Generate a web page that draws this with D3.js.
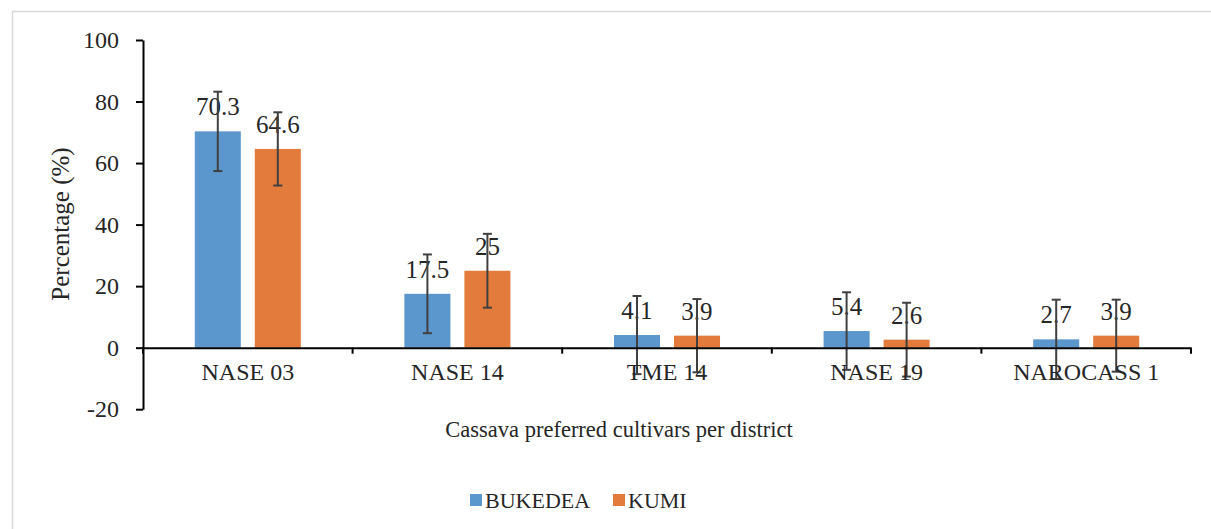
<!DOCTYPE html>
<html>
<head>
<meta charset="utf-8">
<script src="https://cdn.jsdelivr.net/npm/d3@7"></script>
<style>
  body { margin: 0; background: #fff; }
  svg text { font-family: "Liberation Serif", "Times New Roman", Times, "DejaVu Serif", serif; }
</style>
</head>
<body>
<svg width="1211" height="529"></svg>
<script>
// data
const cultivars = ["NASE 03", "NASE 14", "TME 14", "NASE 19", "NAROCASS 1"];
const districts = ["BUKEDEA", "KUMI"];
const bukedea = [70.3, 17.5, 4.1, 5.4, 2.7];
const kumi = [64.6, 25, 3.9, 2.6, 3.9];
const bukedeaErr = [12.9, 12.8, 12.7, 12.6, 12.9];
const kumiErr = [11.9, 12.0, 11.9, 12.0, 11.7];
const yTicks = [-20, 0, 20, 40, 60, 80, 100];

const colors = { BUKEDEA: "#5b96cc", KUMI: "#e37b3c" };

const rows = cultivars.map((c, i) => ({
    cultivar: c,
    values: [
        { key: "BUKEDEA", value: bukedea[i], err: bukedeaErr[i] },
        { key: "KUMI", value: kumi[i], err: kumiErr[i] }
    ]
}));

const svg = d3.select("svg");

// chart area border (Excel style)
svg.append("rect")
    .attr("x", 12.5).attr("y", 11.5)
    .attr("width", 1240).attr("height", 560)
    .attr("fill", "none")
    .attr("stroke", "#d9d9d9")
    .attr("stroke-width", 1.5);

const left = 143, right = 1191;
const x0 = d3.scaleBand().domain(cultivars).range([left, right]).padding(0);
const x1 = d3.scaleBand().domain(districts).range([0, x0.bandwidth()])
    .paddingInner(0.233).paddingOuter(0.863);
const y = d3.scaleLinear().domain([-20, 100]).range([409.2, 40]);

// bars
const groups = svg.append("g")
    .selectAll("g")
    .data(rows)
    .enter()
    .append("g")
    .attr("transform", d => `translate(${x0(d.cultivar)},0)`);

groups.selectAll("rect")
    .data(d => d.values)
    .enter()
    .append("rect")
    .attr("x", d => x1(d.key))
    .attr("width", x1.bandwidth())
    .attr("y", d => y(Math.max(0, d.value)))
    .attr("height", d => Math.abs(y(d.value) - y(0)))
    .attr("fill", d => colors[d.key]);

// y axis
const yAxis = svg.append("g")
    .attr("transform", `translate(${left},0)`)
    .call(d3.axisLeft(y).tickValues(yTicks).tickFormat(d => String(d))
        .tickSize(7).tickPadding(17).tickSizeOuter(0));
yAxis.attr("font-family", null);
yAxis.select(".domain").attr("stroke", "#000").attr("stroke-width", 2);
yAxis.selectAll(".tick line").attr("stroke", "#000").attr("stroke-width", 2);
yAxis.selectAll(".tick text")
    .attr("font-size", 24)
    .attr("fill", "#262626");

// x axis at zero
const xAxis = svg.append("g")
    .attr("transform", `translate(0,${y(0)})`)
    .call(d3.axisBottom(x0).tickSize(0).tickPadding(15).tickSizeOuter(0));
xAxis.attr("font-family", null);
xAxis.select(".domain").attr("stroke", "#000").attr("stroke-width", 2);
xAxis.selectAll(".tick text")
    .attr("font-size", 24)
    .attr("fill", "#262626");
// category boundary ticks
svg.append("g")
    .selectAll("line")
    .data(cultivars.concat(["_end"]))
    .enter()
    .append("line")
    .attr("x1", (d, i) => i < cultivars.length ? x0(d) : right)
    .attr("x2", (d, i) => i < cultivars.length ? x0(d) : right)
    .attr("y1", y(0))
    .attr("y2", y(0) + 6)
    .attr("stroke", "#000")
    .attr("stroke-width", 2);

// data labels
groups.selectAll("text.lbl")
    .data(d => d.values)
    .enter()
    .append("text")
    .attr("class", "lbl")
    .attr("x", d => x1(d.key) + x1.bandwidth() / 2)
    .attr("y", d => y(d.value) - 16)
    .attr("text-anchor", "middle")
    .attr("font-size", 25)
    .attr("fill", "#262626")
    .text(d => d.value);

// error bars
const eb = groups.selectAll("g.err")
    .data(d => d.values)
    .enter()
    .append("g")
    .attr("class", "err")
    .attr("stroke", "#404040")
    .attr("stroke-width", 2);
eb.append("line")
    .attr("x1", d => x1(d.key) + x1.bandwidth() / 2)
    .attr("x2", d => x1(d.key) + x1.bandwidth() / 2)
    .attr("y1", d => y(d.value + d.err))
    .attr("y2", d => y(d.value - d.err));
["+", "-"].forEach(s => {
    eb.append("line")
        .attr("x1", d => x1(d.key) + x1.bandwidth() / 2 - 4.5)
        .attr("x2", d => x1(d.key) + x1.bandwidth() / 2 + 4.5)
        .attr("y1", d => y(s === "+" ? d.value + d.err : d.value - d.err))
        .attr("y2", d => y(s === "+" ? d.value + d.err : d.value - d.err));
});

// axis titles
svg.append("text")
    .attr("x", 619)
    .attr("y", 437)
    .attr("text-anchor", "middle")
    .attr("font-size", 22.5)
    .attr("fill", "#262626")
    .text("Cassava preferred cultivars per district");

svg.append("text")
    .attr("transform", "translate(69,224) rotate(-90)")
    .attr("text-anchor", "middle")
    .attr("font-size", 25)
    .attr("fill", "#262626")
    .text("Percentage (%)");

// legend
const legend = svg.append("g")
    .selectAll("g")
    .data(districts)
    .enter()
    .append("g")
    .attr("transform", (d, i) => `translate(${[470, 613][i]},494)`);
legend.append("rect")
    .attr("width", 12).attr("height", 12)
    .attr("fill", d => colors[d]);
legend.append("text")
    .attr("x", 15)
    .attr("y", 14)
    .attr("font-size", 22)
    .attr("fill", "#262626")
    .text(d => d);
</script>
</body>
</html>
